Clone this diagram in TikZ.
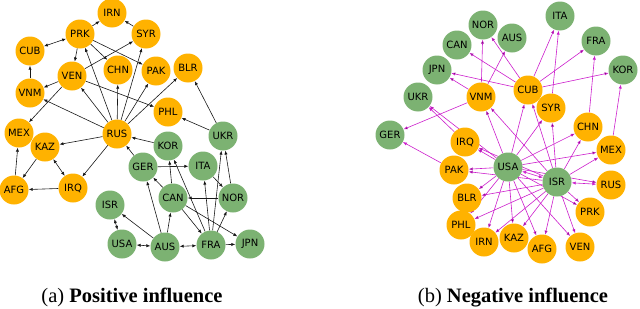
\documentclass[tikz,border=0pt]{standalone}
\usepackage{fontspec}
\setmainfont{Liberation Serif}
\newfontfamily\lblfont{DejaVu Sans}
\usepackage{tikz}
\usetikzlibrary{arrows.meta}
\definecolor{ink}{RGB}{25,25,25}
\definecolor{cfill}{RGB}{255,178,0}
\definecolor{gfill}{RGB}{124,178,114}
\definecolor{negarc}{RGB}{204,30,204}
\pgfdeclarelayer{edges}
\pgfsetlayers{edges,main}
\tikzset{
  ctry/.style={
    circle, fill=#1, draw=none, minimum size=29pt, inner sep=0pt,
    font=\lblfont\fontsize{10}{11}\selectfont, text=black,
  },
  ctry/.default=cfill,
  parr/.style={-{Latex[length=4pt,width=3.2pt]}, line width=0.6pt, draw=ink},
  pdbl/.style={{Latex[length=4pt,width=3.2pt]}-{Latex[length=4pt,width=3.2pt]}, line width=0.6pt, draw=ink},
  narr/.style={-{Latex[length=4pt,width=3.2pt]}, line width=0.6pt, draw=negarc},
  ndbl/.style={{Latex[length=4pt,width=3.2pt]}-{Latex[length=4pt,width=3.2pt]}, line width=0.6pt, draw=negarc},
  sublbl/.style={anchor=base, font=\fontsize{20.5}{22}\selectfont},
}

\begin{document}
\begin{tikzpicture}[x=1pt,y=-1pt]
  \useasboundingbox (0,0) rectangle (640,308);

  % (a) positive influence
  \node[ctry] (pIRN) at (112,13) {IRN};
  \node[ctry] (pPRK) at (80,34) {PRK};
  \node[ctry] (pSYR) at (146,34) {SYR};
  \node[ctry] (pCUB) at (30,51) {CUB};
  \node[ctry] (pVEN) at (72,76) {VEN};
  \node[ctry] (pCHN) at (118,70) {CHN};
  \node[ctry] (pPAK) at (156,71) {PAK};
  \node[ctry] (pBLR) at (188,68) {BLR};
  \node[ctry] (pVNM) at (30,93) {VNM};
  \node[ctry] (pPHL) at (168,112) {PHL};
  \node[ctry] (pMEX) at (19,133) {MEX};
  \node[ctry] (pRUS) at (117,134) {RUS};
  \node[ctry] (pKAZ) at (45,147) {KAZ};
  \node[ctry] (pIRQ) at (73,188) {IRQ};
  \node[ctry] (pAFG) at (14,190) {AFG};
  \node[ctry=gfill] (pGER) at (143,167) {GER};
  \node[ctry=gfill] (pKOR) at (168,146) {KOR};
  \node[ctry=gfill] (pUKR) at (223,136) {UKR};
  \node[ctry=gfill] (pITA) at (203,166) {ITA};
  \node[ctry=gfill] (pCAN) at (173,198) {CAN};
  \node[ctry=gfill] (pNOR) at (233,198) {NOR};
  \node[ctry=gfill] (pISR) at (110,205) {ISR};
  \node[ctry=gfill] (pUSA) at (122,244) {USA};
  \node[ctry=gfill] (pAUS) at (165,247) {AUS};
  \node[ctry=gfill] (pFRA) at (211,245) {FRA};
  \node[ctry=gfill] (pJPN) at (250,244) {JPN};

  \begin{pgfonlayer}{edges}
    \draw[parr] (pRUS) edge (pVNM) edge (pVEN) edge (pPRK) edge (pCHN) edge (pSYR)
      edge (pPAK) edge (pBLR) edge (pKAZ) edge (pIRQ);
    \draw[parr] (pPRK) edge (pIRN) edge (pVEN) edge (pCHN) edge (pPAK);
    \draw[parr] (pSYR) -- (pIRN);
    \draw[parr] (pVEN) edge (pSYR) edge (pVNM) edge (pMEX) edge (pPHL);
    \draw[parr] (pVNM) -- (pCUB);
    \draw[parr] (pAFG) -- (pMEX);
    \draw[parr] (pKAZ) -- (pAFG);
    \draw[parr] (pIRQ) -- (pAFG);
    \draw[pdbl] (pCUB) -- (pPRK);
    \draw[pdbl] (pKAZ) -- (pIRQ);
    \draw[parr] (pUKR) edge (pPHL) edge (pBLR);
    \draw[parr] (pGER) edge (pRUS) edge (pITA);
    \draw[parr] (pKOR) -- (pRUS);
    \draw[parr] (pCAN) edge (pKOR) edge (pGER) edge (pFRA) edge (pJPN);
    \draw[parr] (pNOR) edge (pCAN) edge (pUKR);
    \draw[parr] (pITA) -- (pNOR);
    \draw[parr] (pFRA) edge (pUKR) edge (pITA) edge (pNOR) edge (pKOR) edge (pJPN);
    \draw[parr] (pAUS) edge (pCAN) edge (pGER) edge (pISR);
    \draw[pdbl] (pAUS) -- (pFRA);
    \draw[pdbl] (pAUS) -- (pUSA);
    \draw[pdbl] (pISR) -- (pUSA);
  \end{pgfonlayer}

  % (b) negative influence
  \node[ctry=gfill] (nITA) at (560,16) {ITA};
  \node[ctry=gfill] (nNOR) at (483,25) {NOR};
  \node[ctry=gfill] (nAUS) at (512,38) {AUS};
  \node[ctry=gfill] (nCAN) at (457,45) {CAN};
  \node[ctry=gfill] (nFRA) at (596,41) {FRA};
  \node[ctry=gfill] (nKOR) at (623,70) {KOR};
  \node[ctry=gfill] (nJPN) at (437,70) {JPN};
  \node[ctry=gfill] (nUKR) at (418,97) {UKR};
  \node[ctry=gfill] (nGER) at (390,135) {GER};
  \node[ctry=gfill] (nUSA) at (508,167) {USA};
  \node[ctry=gfill] (nISR) at (557,182) {ISR};
  \node[ctry] (nCUB) at (528,90) {CUB};
  \node[ctry] (nVNM) at (481,97) {VNM};
  \node[ctry] (nSYR) at (551,108) {SYR};
  \node[ctry] (nIRQ) at (465,142) {IRQ};
  \node[ctry] (nCHN) at (588,127) {CHN};
  \node[ctry] (nMEX) at (611,150) {MEX};
  \node[ctry] (nPAK) at (454,170) {PAK};
  \node[ctry] (nRUS) at (611,185) {RUS};
  \node[ctry] (nBLR) at (467,198) {BLR};
  \node[ctry] (nPRK) at (590,212) {PRK};
  \node[ctry] (nPHL) at (461,225) {PHL};
  \node[ctry] (nIRN) at (484,242) {IRN};
  \node[ctry] (nKAZ) at (514,238) {KAZ};
  \node[ctry] (nAFG) at (542,249) {AFG};
  \node[ctry] (nVEN) at (580,247) {VEN};

  \begin{pgfonlayer}{edges}
    \draw[narr] (nUSA) edge (nVNM) edge (nCUB) edge (nSYR) edge (nCHN) edge (nMEX)
      edge (nRUS) edge (nPRK) edge (nVEN) edge (nAFG) edge (nKAZ) edge (nIRN)
      edge (nPHL) edge (nBLR) edge (nPAK) edge (nIRQ) edge (nUKR);
    \draw[narr] (nISR) edge (nIRQ) edge (nPAK) edge (nBLR) edge (nPHL) edge (nIRN)
      edge (nKAZ) edge (nAFG) edge (nVEN) edge (nPRK) edge (nMEX) edge (nCHN)
      edge (nSYR) edge (nCUB) edge (nVNM);
    \draw[ndbl] (nUSA) -- (nISR);
    \draw[ndbl] (nISR) -- (nRUS);
    \draw[narr] (nCUB) edge (nITA) edge (nFRA) edge (nKOR) edge (nNOR) edge (nCAN) edge (nJPN);
    \draw[narr] (nVNM) edge (nNOR) edge (nAUS) edge (nJPN) edge (nGER);
    \draw[narr] (nSYR) -- (nITA);
    \draw[narr] (nCHN) -- (nFRA);
    \draw[narr] (nMEX) -- (nKOR);
    \draw[narr] (nIRQ) -- (nUKR);
    \draw[narr] (nPAK) -- (nGER);
  \end{pgfonlayer}

  \node[sublbl] (capa) at (132,302) {(a) \textbf{Positive influence}};
  \node[sublbl] (capb) at (513,302) {(b) \textbf{Negative influence}};
\end{tikzpicture}
\end{document}
